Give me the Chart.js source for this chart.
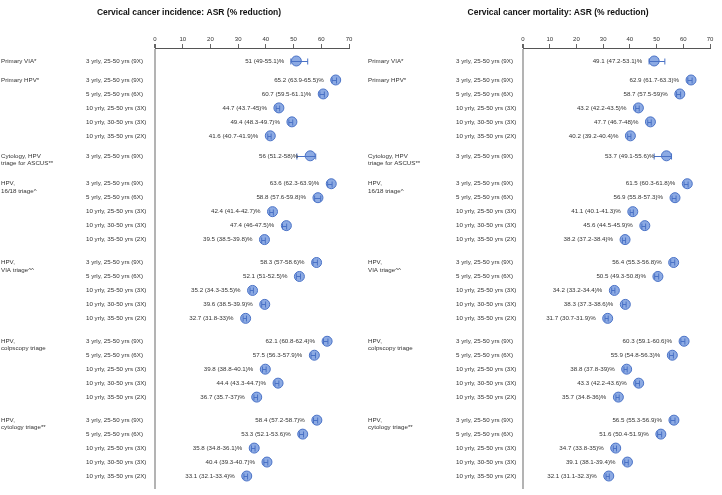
<!DOCTYPE html>
<html>
<head>
<meta charset="utf-8">
<script src="https://cdn.jsdelivr.net/npm/chart.js@4.4.1/dist/chart.umd.min.js"></script>
<style>
body{margin:0;background:#fff}
#wrap{position:relative;width:722px;height:495px}
canvas{position:absolute;top:0}
</style>
</head>
<body>
<div id="wrap">
<canvas id="inc" width="361" height="495" style="left:0"></canvas>
<canvas id="mort" width="361" height="495" style="left:361px"></canvas>
</div>
<script>
// groups and screening intervals
const groupLabels = [["Primary VIA*"], ["Primary HPV*"], ["Cytology, HPV", "triage for ASCUS**"],
    ["HPV,", "16/18 triage^"], ["HPV,", "VIA triage^^"], ["HPV,", "colpscopy triage"], ["HPV,", "cytology triage**"]];
const groupSizes = [1, 5, 1, 5, 5, 5, 5];
const intervals = ["3 yrly, 25-50 yrs (9X)", "5 yrly, 25-50 yrs (6X)", "10 yrly, 25-50 yrs (3X)",
    "10 yrly, 30-50 yrs (3X)", "10 yrly, 35-50 yrs (2X)"];
const xTicks = [0, 10, 20, 30, 40, 50, 60, 70];

// incidence: % reduction (95% range)
const incEst = [51, 65.2, 60.7, 44.7, 49.4, 41.6, 56, 63.6, 58.8, 42.4, 47.4, 39.5, 58.3, 52.1, 35.2, 39.6, 32.7,
    62.1, 57.5, 39.8, 44.4, 36.7, 58.4, 53.3, 35.8, 40.4, 33.1];
const incLo = [49, 63.9, 59.5, 43.7, 48.3, 40.7, 51.2, 62.3, 57.6, 41.4, 46, 38.5, 57, 51, 34.3, 38.5, 31.8,
    60.8, 56.3, 38.8, 43.3, 35.7, 57.2, 52.1, 34.8, 39.3, 32.1];
const incHi = [55.1, 65.5, 61.1, 45, 49.7, 41.9, 58, 63.9, 59.8, 42.7, 47.5, 39.8, 58.6, 52.5, 35.5, 39.9, 33,
    62.4, 57.9, 40.1, 44.7, 37, 58.7, 53.6, 36.1, 40.7, 33.4];

// mortality: % reduction (95% range)
const mortEst = [49.1, 62.9, 58.7, 43.2, 47.7, 40.2, 53.7, 61.5, 56.9, 41.1, 45.6, 38.2, 56.4, 50.5, 34.2, 38.3, 31.7,
    60.3, 55.9, 38.8, 43.3, 35.7, 56.5, 51.6, 34.7, 39.1, 32.1];
const mortLo = [47.2, 61.7, 57.5, 42.2, 46.7, 39.2, 49.1, 60.3, 55.8, 40.1, 44.5, 37.2, 55.3, 49.3, 33.2, 37.3, 30.7,
    59.1, 54.8, 37.8, 42.2, 34.8, 55.3, 50.4, 33.8, 38.1, 31.1];
const mortHi = [53.1, 63.3, 59, 43.5, 48, 40.4, 55.6, 61.8, 57.3, 41.3, 45.9, 38.4, 56.8, 50.8, 34.4, 38.6, 31.9,
    60.6, 56.3, 39, 43.6, 36, 56.9, 51.9, 35, 39.4, 32.3];

// layout: extra space between groups (in rows)
const GROUP_GAP = [1.36, 1.43, 2.0, 1.64, 1.64, 1.65];
const FONT = '"Liberation Sans", Arial, sans-serif';
const TXT = "#333";

const rowPos = [], rowLabel = [], groupStart = [];
let cur = 0;
groupSizes.forEach((n, g) => {
    groupStart.push(cur);
    for (let k = 0; k < n; k++) { rowPos.push(cur + k); rowLabel.push(intervals[k]); }
    cur += n - 1 + (GROUP_GAP[g] || 0);
});

function forestChart(id, opts) {
    const forest = {
        id: "forest",
        afterDatasetsDraw(chart) {
            const c = chart.ctx, xs = chart.scales.x, ys = chart.scales.y;
            c.save();
            c.strokeStyle = "#4a72c6";
            c.lineWidth = 1;
            rowPos.forEach((p, i) => {
                const y = Math.round(ys.getPixelForValue(p)) + 0.5;
                const x1 = xs.getPixelForValue(opts.lo[i]), x2 = xs.getPixelForValue(opts.hi[i]);
                c.beginPath();
                c.moveTo(x1, y); c.lineTo(x2, y);
                c.moveTo(x1, y - 3); c.lineTo(x1, y + 3);
                c.moveTo(x2, y - 3); c.lineTo(x2, y + 3);
                c.stroke();
            });
            c.restore();
        },
        afterDraw(chart) {
            const c = chart.ctx, xs = chart.scales.x, ys = chart.scales.y;
            c.save();
            c.fillStyle = "#111";
            c.font = "bold 8.5px " + FONT;
            c.textAlign = "center";
            c.textBaseline = "middle";
            c.fillText(opts.title, opts.titleX, 13);
            c.fillStyle = TXT;
            c.font = "6.2px " + FONT;
            c.textAlign = "left";
            groupLabels.forEach((lines, g) => {
                const y = ys.getPixelForValue(groupStart[g]);
                lines.forEach((s, j) => c.fillText(s, opts.groupX, y + j * 7.5));
            });
            rowPos.forEach((p, i) => c.fillText(rowLabel[i], opts.rowX, ys.getPixelForValue(p)));
            c.textAlign = "right";
            rowPos.forEach((p, i) => {
                const s = opts.est[i] + " (" + opts.lo[i] + "-" + opts.hi[i] + ")%";
                c.fillText(s, xs.getPixelForValue(opts.est[i]) - 12, ys.getPixelForValue(p));
            });
            c.restore();
        }
    };
    return new Chart(document.getElementById(id), {
        type: "scatter",
        data: {
            datasets: [{
                data: opts.est.map((v, i) => ({ x: v, y: rowPos[i] })),
                pointRadius: 5,
                pointBackgroundColor: "rgba(120,155,222,0.85)",
                pointBorderColor: "#4a72c6",
                pointBorderWidth: 1
            }]
        },
        options: {
            responsive: false,
            animation: false,
            events: [],
            layout: { padding: { left: opts.left, right: 12, top: 28, bottom: 5 } },
            plugins: { legend: { display: false }, tooltip: { enabled: false } },
            scales: {
                x: {
                    type: "linear",
                    position: "top",
                    min: xTicks[0],
                    max: xTicks[xTicks.length - 1],
                    afterFit: s => { s.height = 20; },
                    afterBuildTicks: s => { s.ticks = xTicks.map(v => ({ value: v })); },
                    ticks: { font: { size: 6, family: FONT }, color: TXT, padding: 1 },
                    grid: {
                        drawOnChartArea: true,
                        color: ctx => ctx.tick && ctx.tick.value === 0 ? "#b3b3b3" : "rgba(0,0,0,0)",
                        lineWidth: ctx => ctx.tick && ctx.tick.value === 0 ? 2 : 1,
                        tickColor: "#666",
                        tickLength: 4
                    },
                    border: { display: true, color: "#555", width: 1 }
                },
                y: {
                    type: "linear",
                    display: false,
                    reverse: true,
                    min: -0.93,
                    max: rowPos[rowPos.length - 1] + 0.93
                }
            }
        },
        plugins: [forest]
    });
}

forestChart("inc", { title: "Cervical cancer incidence: ASR (% reduction)", titleX: 189, groupX: 1, rowX: 86,
    left: 155, est: incEst, lo: incLo, hi: incHi });
forestChart("mort", { title: "Cervical cancer mortality: ASR (% reduction)", titleX: 197, groupX: 7, rowX: 95,
    left: 162, est: mortEst, lo: mortLo, hi: mortHi });
</script>
</body>
</html>
